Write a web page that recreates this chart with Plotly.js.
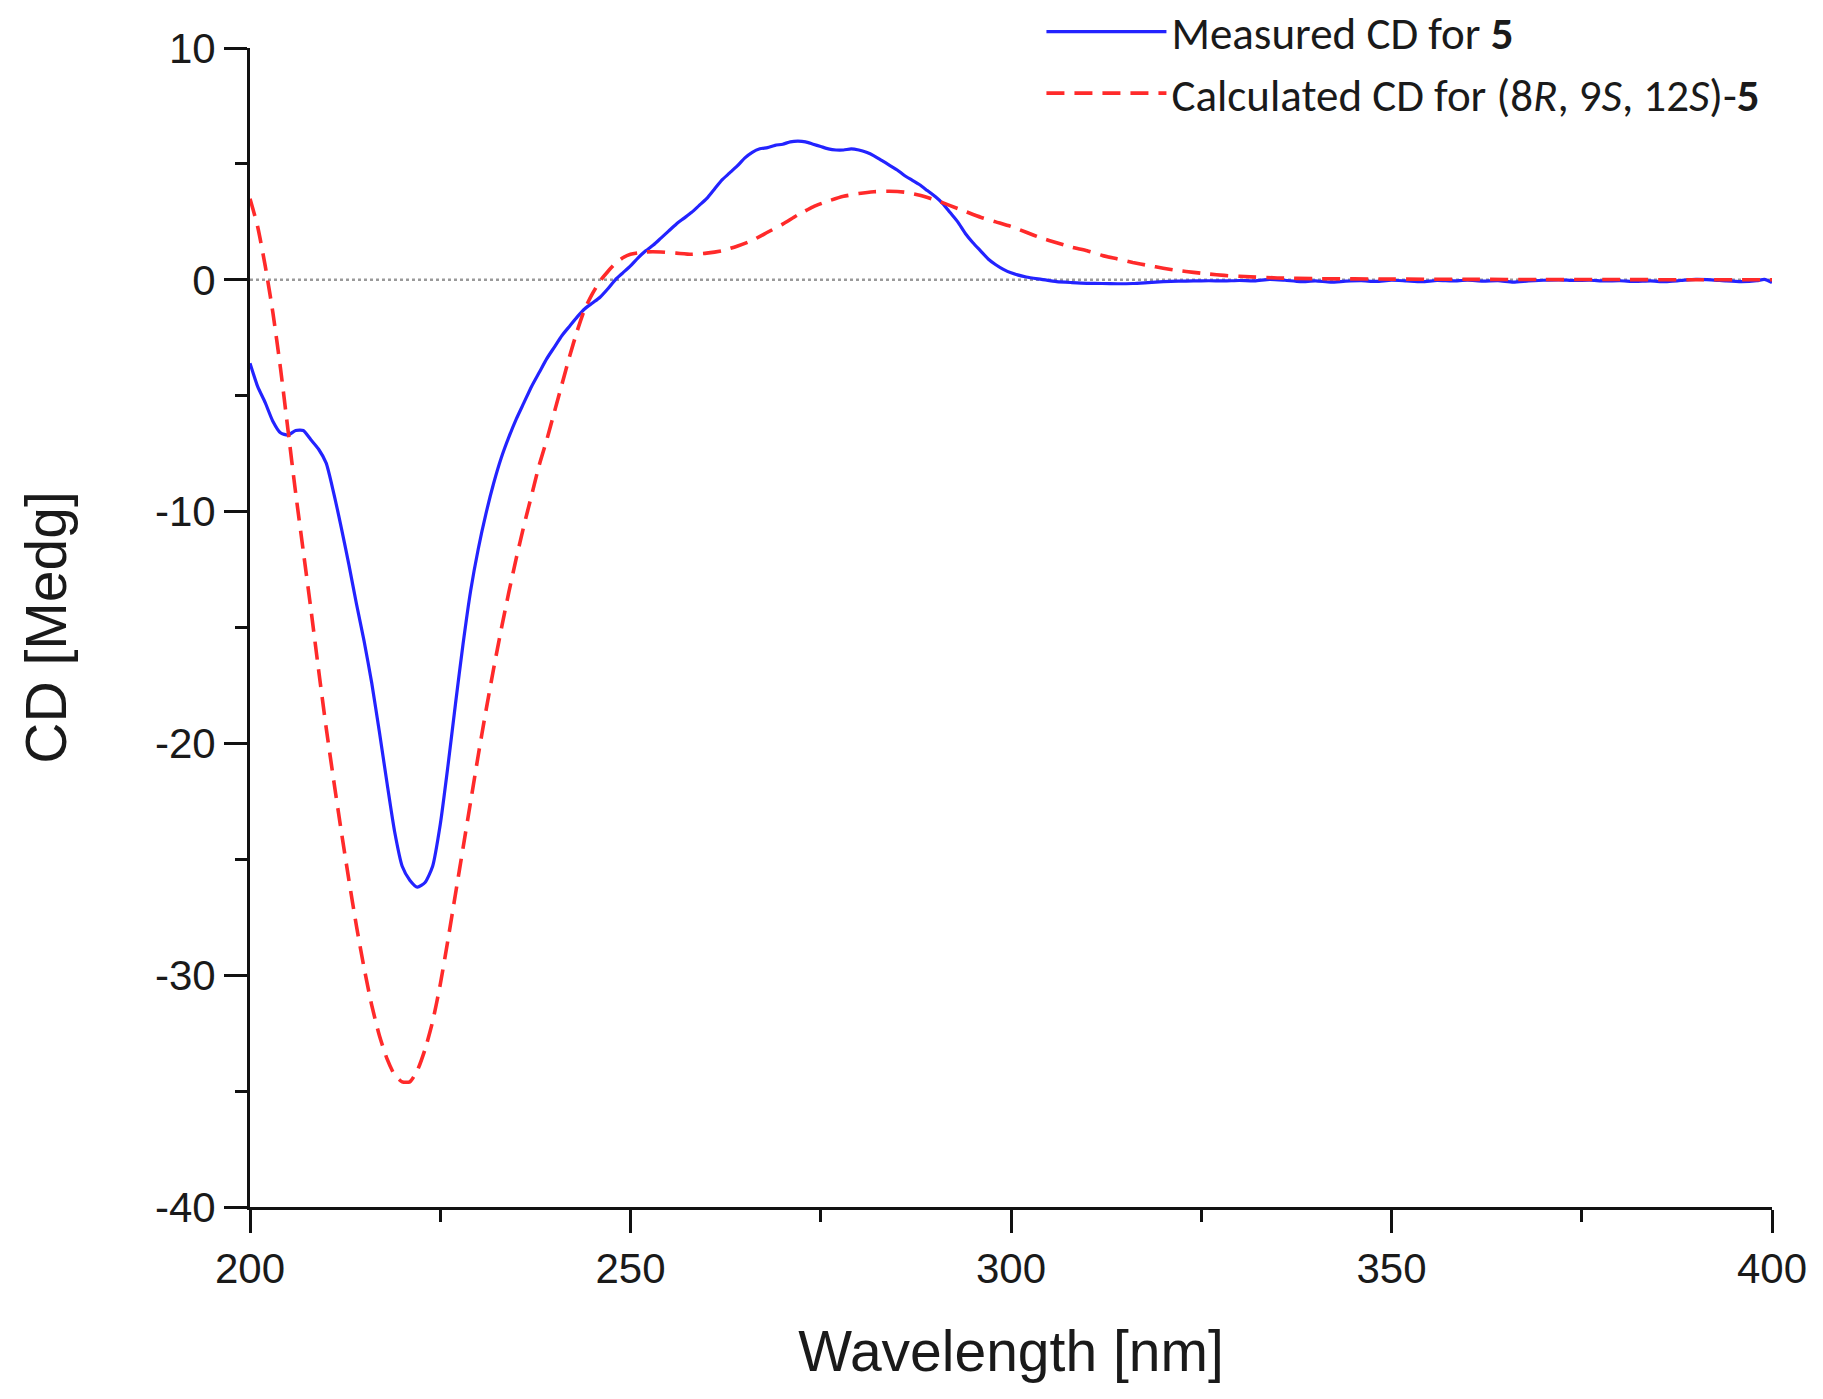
<!DOCTYPE html>
<html>
<head>
<meta charset="utf-8">
<script src="https://cdn.plot.ly/plotly-3.0.1.min.js"></script>
<style>html,body{margin:0;padding:0;background:#fff;} #chart{width:1823px;height:1399px;}</style>
</head>
<body>
<div id="chart"></div>
<script>
// Measured CD for 5 (wavelength nm, CD mdeg)
const measuredWavelength = [200,201,202,203,204,205,206,207,208,209,210,211,212,213,214,215,216,217,218,219,220,221,222,223,224,225,226,227,228,229,230,231,232,233,234,235,236,237,238,239,240,241,242,243,244,245,246,247,248,249,250,251,252,253,254,255,256,257,258,259,260,261,262,263,264,265,266,267,268,269,270,271,272,273,274,275,276,277,278,279,280,281,282,283,284,285,286,287,288,289,290,291,292,293,294,295,296,297,298,299,300,302,304,306,308,310,312,314,316,318,320,322,324,326,328,330,332,334,336,338,340,342,344,346,348,350,352,354,356,358,360,362,364,366,368,370,372,374,376,378,380,382,384,386,388,390,392,394,396,398,399,400];
const measuredCD = [-3.6,-4.6,-5.3,-6.1,-6.6,-6.7,-6.5,-6.5,-6.9,-7.3,-7.9,-9.2,-10.7,-12.3,-14.0,-15.6,-17.4,-19.5,-21.7,-23.8,-25.3,-25.9,-26.2,-26.0,-25.3,-23.5,-21.0,-18.3,-15.7,-13.4,-11.6,-10.1,-8.8,-7.7,-6.8,-6.0,-5.3,-4.6,-4.0,-3.4,-2.9,-2.4,-2.0,-1.6,-1.25,-1.0,-0.75,-0.4,0.0,0.3,0.6,0.95,1.25,1.5,1.8,2.1,2.4,2.65,2.9,3.2,3.5,3.9,4.3,4.6,4.9,5.25,5.5,5.65,5.7,5.8,5.85,5.95,5.98,5.95,5.85,5.75,5.65,5.6,5.6,5.65,5.6,5.5,5.35,5.15,4.95,4.75,4.5,4.3,4.1,3.85,3.6,3.3,2.9,2.5,2.0,1.6,1.25,0.9,0.65,0.45,0.3,0.12,0.02,-0.08,-0.12,-0.15,-0.16,-0.17,-0.16,-0.12,-0.08,-0.06,-0.05,-0.04,-0.05,-0.03,-0.05,0.02,-0.02,-0.08,-0.05,-0.1,-0.06,-0.04,-0.07,-0.02,-0.05,-0.08,-0.03,-0.05,-0.02,-0.06,-0.04,-0.1,-0.05,-0.02,0.0,-0.03,-0.02,-0.05,-0.04,-0.07,-0.05,-0.08,-0.03,0.02,0.0,-0.05,-0.08,-0.04,0.02,-0.12];

// Calculated CD for (8R, 9S, 12S)-5
const calcWavelength = [200,201,202,203,204,205,206,207,208,209,210,211,212,213,214,215,216,217,218,219,220,221,222,223,224,225,226,227,228,229,230,231,232,233,234,235,236,237,238,239,240,241,242,243,244,245,246,247,248,249,250,252,254,256,258,260,262,264,266,268,270,272,274,276,278,280,282,284,286,288,290,292,294,296,298,300,302,304,306,308,310,312,314,316,318,320,322,324,326,328,330,335,340,350,360,370,380,390,400];
const calcCD = [3.5,2.3,0.6,-1.4,-3.8,-6.5,-9.2,-11.7,-14.2,-16.8,-19.3,-21.6,-23.8,-25.9,-27.9,-29.7,-31.3,-32.6,-33.6,-34.3,-34.6,-34.6,-34.1,-33.2,-32.0,-30.4,-28.5,-26.5,-24.5,-22.5,-20.5,-18.6,-16.8,-15.1,-13.5,-12.0,-10.6,-9.3,-8.0,-6.9,-5.7,-4.5,-3.3,-2.2,-1.25,-0.6,-0.05,0.35,0.7,0.95,1.1,1.2,1.2,1.15,1.1,1.15,1.25,1.45,1.7,2.05,2.4,2.8,3.15,3.4,3.6,3.72,3.8,3.82,3.78,3.65,3.45,3.2,2.95,2.7,2.5,2.3,2.05,1.8,1.6,1.4,1.25,1.05,0.9,0.75,0.62,0.5,0.4,0.32,0.25,0.19,0.15,0.08,0.05,0.03,0.02,0.01,0.01,0.0,0.0];

const xTickVals = [200,250,300,350,400];
const yTickVals = [-40,-30,-20,-10,0,10];

const tickFont = {family: 'Liberation Sans, Arial, sans-serif', size: 42, color: '#1a1a1a'};
const titleFont = {family: 'Liberation Sans, Arial, sans-serif', size: 57, color: '#1a1a1a'};

const traces = [
  {
    x: measuredWavelength, y: measuredCD, type: 'scatter', mode: 'lines',
    name: 'Measured CD for <b>5</b>',
    line: {color: '#2323ff', width: 3.2, shape: 'spline', smoothing: 0.6}
  },
  {
    x: calcWavelength, y: calcCD, type: 'scatter', mode: 'lines',
    name: 'Calculated CD for (8<i>R</i>, 9<i>S</i>, 12<i>S</i>)-<b>5</b>',
    line: {color: '#ff2a2a', width: 3.6, dash: '18px,10px', shape: 'spline', smoothing: 0.6}
  }
];

const layout = {
  width: 1823, height: 1399,
  margin: {l: 250, r: 51, t: 48, b: 192, autoexpand: false},
  paper_bgcolor: '#fff', plot_bgcolor: '#fff',
  showlegend: true,
  legend: {
    x: 0.520, y: 1.045, xanchor: 'left', yanchor: 'top',
    bgcolor: 'rgba(0,0,0,0)',
    font: {family: 'Carlito, Liberation Sans Narrow, Roboto, sans-serif', size: 45, color: '#1a1a1a'},
    itemwidth: 120, tracegroupgap: 0
  },
  xaxis: {
    range: [200, 400], tickvals: xTickVals, ticktext: xTickVals.map(String),
    showgrid: false, zeroline: false,
    showline: true, linecolor: '#111', linewidth: 3,
    ticks: 'outside', ticklen: 23, tickwidth: 3, tickcolor: '#111',
    tickfont: tickFont,
    minor: {dtick: 25, tick0: 200, ticks: 'outside', ticklen: 12, tickwidth: 3, tickcolor: '#111', showgrid: false},
    title: {text: 'Wavelength [nm]', font: titleFont, standoff: 40}
  },
  yaxis: {
    range: [-40, 10], tickvals: yTickVals, ticktext: yTickVals.map(String),
    showgrid: false, zeroline: false,
    showline: true, linecolor: '#111', linewidth: 3,
    ticks: 'outside', ticklen: 23, tickwidth: 3, tickcolor: '#111',
    tickfont: tickFont,
    minor: {dtick: 5, tick0: 0, ticks: 'outside', ticklen: 12, tickwidth: 3, tickcolor: '#111', showgrid: false},
    title: {text: 'CD [Medg]', font: titleFont, standoff: 70}
  },
  shapes: [
    {type: 'line', xref: 'paper', x0: 0, x1: 1, yref: 'y', y0: 0, y1: 0,
     line: {color: '#9a9a9a', width: 2.5, dash: 'dot'}, layer: 'below'}
  ]
};

Plotly.newPlot('chart', traces, layout, {staticPlot: true, displayModeBar: false});
</script>
</body>
</html>
